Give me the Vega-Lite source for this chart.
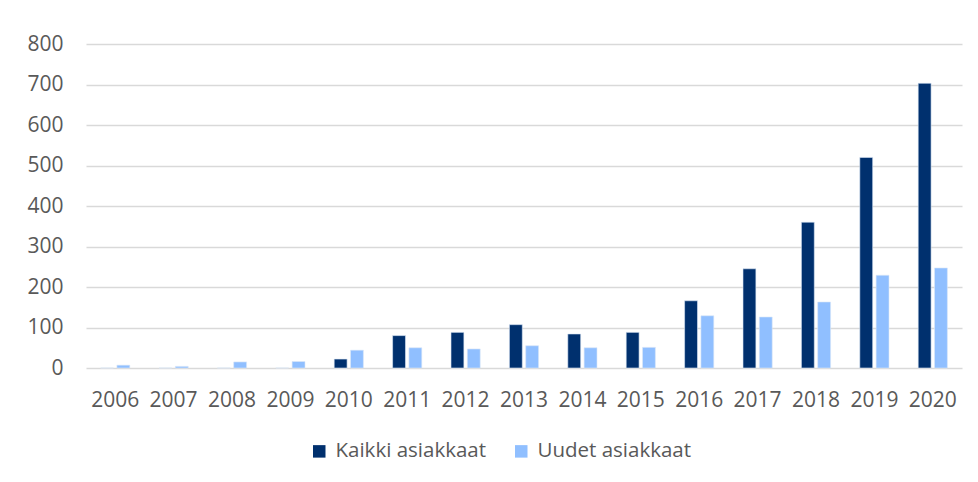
{
  "$schema": "https://vega.github.io/schema/vega-lite/v6.json",
  "width": 876,
  "height": 324,
  "autosize": "none",
  "padding": {"left": 86, "top": 44, "right": 16, "bottom": 114},
  "background": "white",
  "config": {
    "view": {"stroke": null},
    "font": "Open Sans",
    "axis": {"labelFont": "Open Sans", "labelColor": "#595959", "labelFontSize": 21},
    "legend": {"labelFont": "Open Sans", "labelColor": "#595959", "labelFontSize": 20.5}
  },
  "data": {
    "values": [
      {"year": "2006", "series": "Kaikki asiakkaat", "value": 0},
      {"year": "2006", "series": "Uudet asiakkaat", "value": 7},
      {"year": "2007", "series": "Kaikki asiakkaat", "value": 0},
      {"year": "2007", "series": "Uudet asiakkaat", "value": 4},
      {"year": "2008", "series": "Kaikki asiakkaat", "value": 0},
      {"year": "2008", "series": "Uudet asiakkaat", "value": 15},
      {"year": "2009", "series": "Kaikki asiakkaat", "value": 0},
      {"year": "2009", "series": "Uudet asiakkaat", "value": 16},
      {"year": "2010", "series": "Kaikki asiakkaat", "value": 22},
      {"year": "2010", "series": "Uudet asiakkaat", "value": 44},
      {"year": "2011", "series": "Kaikki asiakkaat", "value": 80},
      {"year": "2011", "series": "Uudet asiakkaat", "value": 50},
      {"year": "2012", "series": "Kaikki asiakkaat", "value": 88},
      {"year": "2012", "series": "Uudet asiakkaat", "value": 47},
      {"year": "2013", "series": "Kaikki asiakkaat", "value": 107},
      {"year": "2013", "series": "Uudet asiakkaat", "value": 55},
      {"year": "2014", "series": "Kaikki asiakkaat", "value": 84},
      {"year": "2014", "series": "Uudet asiakkaat", "value": 50},
      {"year": "2015", "series": "Kaikki asiakkaat", "value": 88},
      {"year": "2015", "series": "Uudet asiakkaat", "value": 51},
      {"year": "2016", "series": "Kaikki asiakkaat", "value": 166},
      {"year": "2016", "series": "Uudet asiakkaat", "value": 129},
      {"year": "2017", "series": "Kaikki asiakkaat", "value": 245},
      {"year": "2017", "series": "Uudet asiakkaat", "value": 126},
      {"year": "2018", "series": "Kaikki asiakkaat", "value": 360},
      {"year": "2018", "series": "Uudet asiakkaat", "value": 163},
      {"year": "2019", "series": "Kaikki asiakkaat", "value": 520},
      {"year": "2019", "series": "Uudet asiakkaat", "value": 229},
      {"year": "2020", "series": "Kaikki asiakkaat", "value": 703},
      {"year": "2020", "series": "Uudet asiakkaat", "value": 247}
    ]
  },
  "mark": {"type": "bar", "stroke": "#dce8f7", "strokeWidth": 0.6},
  "encoding": {
    "x": {
      "field": "year",
      "type": "nominal",
      "scale": {"paddingInner": 0.5, "paddingOuter": 0.25},
      "axis": {
        "title": null,
        "labelAngle": 0,
        "ticks": false,
        "domain": false,
        "labelPadding": 21
      }
    },
    "xOffset": {
      "field": "series",
      "type": "nominal",
      "scale": {"paddingInner": 0.21, "paddingOuter": 0}
    },
    "y": {
      "field": "value",
      "type": "quantitative",
      "scale": {"domain": [0, 800], "nice": false},
      "axis": {
        "title": null,
        "values": [0, 100, 200, 300, 400, 500, 600, 700, 800],
        "ticks": false,
        "domain": false,
        "grid": true,
        "gridColor": "#d9d9d9",
        "gridWidth": 1.5,
        "labelPadding": 23
      }
    },
    "color": {
      "field": "series",
      "type": "nominal",
      "scale": {
        "domain": ["Kaikki asiakkaat", "Uudet asiakkaat"],
        "range": ["#00306e", "#90bfff"]
      },
      "legend": {
        "title": null,
        "orient": "none",
        "legendX": 223,
        "legendY": 397,
        "direction": "horizontal",
        "symbolType": "square",
        "symbolSize": 156,
        "symbolStrokeWidth": 0,
        "labelOffset": 6,
        "columnPadding": 24
      }
    }
  }
}
